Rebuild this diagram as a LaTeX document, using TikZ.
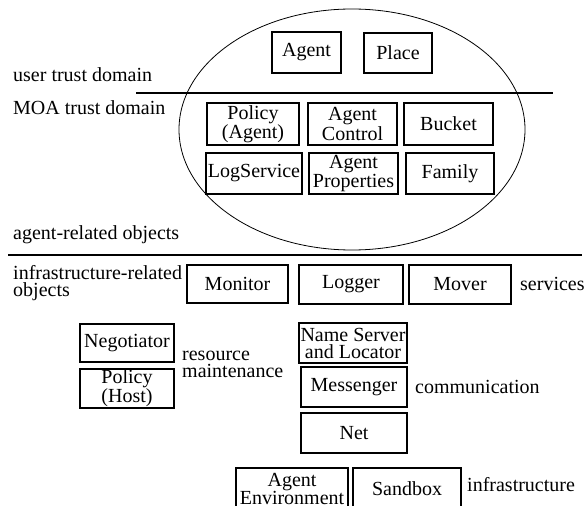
\documentclass[tikz,border=0pt]{standalone}
\usepackage{fontspec}
\setmainfont{Liberation Serif}
\usetikzlibrary{shapes.geometric}
\begin{document}
\begin{tikzpicture}[x=1pt,y=-1pt,
  box/.style={draw, line width=1.8pt, inner sep=0pt, align=center,
    font=\fontsize{20}{17}\selectfont},
  lbl/.style={anchor=west, inner sep=0pt, align=left,
    font=\fontsize{20}{17}\selectfont},
  sep/.style={line width=1.6pt}]
\useasboundingbox (0,0) rectangle (585,505);
% ellipse
\node[draw, line width=0.8pt, ellipse, minimum width=346pt, minimum height=241pt, inner sep=0pt] (dom) at (352,129.5) {};
% separator lines
\coordinate (l1a) at (136,93); \coordinate (l1b) at (553,93);
\coordinate (l2a) at (8,255); \coordinate (l2b) at (582,255);
\draw[sep] (l1a) -- (l1b);
\draw[sep] (l2a) -- (l2b);
% boxes in ellipse
\node[box, minimum width=69pt, minimum height=41pt] (agent) at (306.5,52.5) {Agent};
\node[box, minimum width=68pt, minimum height=40pt] (place) at (398,53) {Place};
\node[box, minimum width=92pt, minimum height=42pt] (policya) at (253,124) {Policy\\(Agent)};
\node[box, minimum width=89pt, minimum height=42pt] (actrl) at (352.5,124) {Agent\\Control};
\node[box, minimum width=89pt, minimum height=42pt] (bucket) at (448.5,124) {Bucket};
\node[box, minimum width=96pt, minimum height=41pt] (logsvc) at (254,173.5) {LogService};
\node[box, minimum width=89pt, minimum height=41pt] (aprops) at (353.5,173.5) {Agent\\Properties};
\node[box, minimum width=88pt, minimum height=41pt] (family) at (450,173.5) {Family};
% infrastructure boxes
\node[box, minimum width=101pt, minimum height=38pt] (monitor) at (237.5,284) {Monitor};
\node[box, minimum width=104pt, minimum height=39pt] (logger) at (351,284.5) {Logger};
\node[box, minimum width=102pt, minimum height=39pt] (mover) at (460,284.5) {Mover};
\node[box, minimum width=94pt, minimum height=38pt] (negot) at (127,343) {Negotiator};
\node[box, minimum width=94pt, minimum height=39pt] (policyh) at (127,388.5) {Policy\\(Host)};
\node[box, minimum width=108pt, minimum height=40pt] (names) at (353,343) {Name Server\\and Locator};
\node[box, minimum width=106pt, minimum height=40pt] (messenger) at (354,387) {Messenger};
\node[box, minimum width=106pt, minimum height=40pt] (net) at (354,433) {Net};
\node[box, minimum width=112pt, minimum height=42pt] (aenv) at (292,489) {Agent\\Environment};
\node[box, minimum width=108pt, minimum height=42pt] (sandbox) at (407,489) {Sandbox};
% labels
\node[lbl] (t1) at (13,75) {user trust domain};
\node[lbl] (t2) at (13,108) {MOA trust domain};
\node[lbl] (t3) at (13,235) {agent-related objects};
\node[lbl] (t4) at (13,283.5) {infrastructure-related\\objects};
\node[lbl] (t5) at (182,364) {resource\\maintenance};
\node[lbl] (t6) at (520,284) {services};
\node[lbl] (t7) at (415,387) {communication};
\node[lbl] (t8) at (467,485) {infrastructure};
\end{tikzpicture}
\end{document}
